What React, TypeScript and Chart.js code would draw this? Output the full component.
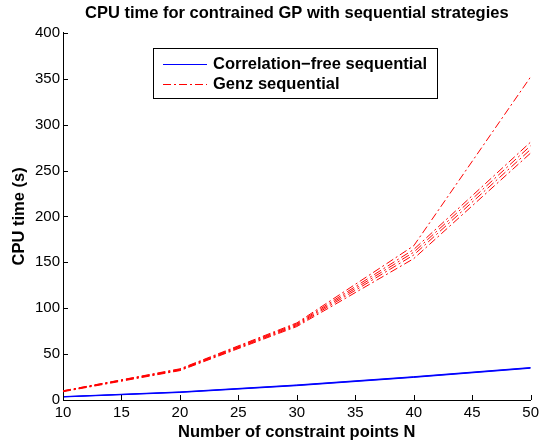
import React, { useEffect, useRef } from "react";
import { Chart, registerables } from "chart.js";

Chart.register(...registerables);

const N = [10, 20, 30, 40, 50];

const blueRuns = [
  [3.5, 8.5, 16.0, 25.0, 35.0],
  [3.3, 8.2, 15.6, 24.6, 34.6],
  [3.7, 8.8, 16.4, 25.4, 35.4],
];

const redRuns = [
  [10, 34, 84, 168, 352],
  [10, 33.5, 83, 164, 281],
  [9.5, 33, 82, 161, 277],
  [9.5, 32.5, 81, 158, 273],
  [9, 32, 80, 154, 269],
];

const xTicks = [10, 15, 20, 25, 30, 35, 40, 45, 50];
const yTicks = [0, 50, 100, 150, 200, 250, 300, 350, 400];

const titleText = "CPU time for contrained GP with sequential strategies";
const xTitle = "Number of constraint points N";
const yTitle = "CPU time (s)";
const legendLabels = ["Correlation\u2212free sequential", "Genz sequential"];

const FONT = "'Liberation Sans', Arial, Helvetica, sans-serif";
const RED_DASH = [8, 3, 2, 3];
const BOLD_SIZE = 16.5;
const BLUE = "#0000ff";
const RED = "#ff0000";

const inwardTicks = {
  id: "inwardTicks",
  afterDatasetsDraw(chart: any) {
    const { ctx, chartArea, scales } = chart;
    const len = 5;
    ctx.save();
    ctx.strokeStyle = "#000";
    ctx.lineWidth = 1;
    ctx.beginPath();
    xTicks.forEach((v) => {
      const px = Math.round(scales.x.getPixelForValue(v)) + 0.5;
      ctx.moveTo(px, chartArea.bottom);
      ctx.lineTo(px, chartArea.bottom - len);
    });
    yTicks.forEach((v) => {
      const py = Math.round(scales.y.getPixelForValue(v)) + 0.5;
      ctx.moveTo(chartArea.left, py);
      ctx.lineTo(chartArea.left + len, py);
    });
    ctx.stroke();
    ctx.restore();
  },
};

const boxLegend = {
  id: "boxLegend",
  afterDraw(chart: any) {
    const { ctx, chartArea } = chart;
    const x0 = Math.round(chartArea.left + 90);
    const y0 = Math.round(chartArea.top + 15.5);
    const w = 284;
    const h = 50;
    ctx.save();
    ctx.setLineDash([]);
    ctx.globalAlpha = 1;
    ctx.globalCompositeOperation = "source-over";
    ctx.fillStyle = "#ffffff";
    ctx.fillRect(x0, y0, w, h);
    ctx.fillStyle = "#000000";
    ctx.fillRect(x0, y0, w, 1);
    ctx.fillRect(x0, y0 + h, w + 1, 1);
    ctx.fillRect(x0, y0, 1, h);
    ctx.fillRect(x0 + w, y0, 1, h);
    // blue solid swatch
    const by = y0 + 16;
    ctx.fillStyle = BLUE;
    ctx.fillRect(x0 + 10, by, 44, 1);
    // red dash-dot swatch
    const ry = y0 + 36;
    ctx.fillStyle = RED;
    let px = x0 + 10;
    let k = 0;
    while (px < x0 + 54) {
      const seg = RED_DASH[k % RED_DASH.length];
      if (k % 2 === 0) ctx.fillRect(px, ry, Math.min(seg, x0 + 54 - px), 1);
      px += seg;
      k++;
    }
    ctx.fillStyle = "#000000";
    ctx.font = `bold ${BOLD_SIZE}px ${FONT}`;
    ctx.textBaseline = "middle";
    ctx.textAlign = "left";
    ctx.fillText(legendLabels[0], x0 + 60, by);
    ctx.fillText(legendLabels[1], x0 + 60, ry);
    ctx.restore();
  },
};

export default function App() {
  const ref = useRef<HTMLCanvasElement | null>(null);
  useEffect(() => {
    if (!ref.current) return;
    const datasets: any[] = [];
    blueRuns.forEach((run) => {
      datasets.push({
        data: N.map((n, i) => ({ x: n, y: run[i] })),
        borderColor: BLUE,
        borderWidth: 1,
        pointRadius: 0,
        fill: false,
        tension: 0,
      });
    });
    redRuns.forEach((run) => {
      datasets.push({
        data: N.map((n, i) => ({ x: n, y: run[i] })),
        borderColor: RED,
        borderWidth: 1,
        borderDash: RED_DASH,
        pointRadius: 0,
        fill: false,
        tension: 0,
      });
    });
    const chart = new Chart(ref.current, {
      type: "line",
      data: { datasets },
      plugins: [inwardTicks, boxLegend],
      options: {
        responsive: false,
        animation: false,
        layout: { padding: { top: 0, right: 8, bottom: 0, left: 0 } },
        plugins: {
          legend: { display: false },
          tooltip: { enabled: false },
          title: {
            display: true,
            fullSize: false,
            text: titleText,
            color: "#000",
            font: { family: FONT, size: BOLD_SIZE, weight: "bold" },
            padding: { top: 4, bottom: 9 },
          },
        },
        scales: {
          x: {
            type: "linear",
            min: 10,
            max: 50,
            afterFit: (s: any) => {
              s.height = 45;
            },
            afterBuildTicks: (s: any) => {
              s.ticks = xTicks.map((v) => ({ value: v }));
            },
            grid: { display: false, drawTicks: false },
            border: { display: true, color: "#000", width: 1 },
            ticks: {
              color: "#000",
              font: { family: FONT, size: 15 },
              padding: 4,
              maxRotation: 0,
              autoSkip: false,
            },
            title: {
              display: true,
              text: xTitle,
              color: "#000",
              font: { family: FONT, size: BOLD_SIZE, weight: "bold" },
              padding: { top: 0, bottom: 3 },
            },
          },
          y: {
            type: "linear",
            min: 0,
            max: 400,
            afterFit: (s: any) => {
              s.width = 63;
            },
            afterBuildTicks: (s: any) => {
              s.ticks = yTicks.map((v) => ({ value: v }));
            },
            grid: { display: false, drawTicks: false },
            border: { display: true, color: "#000", width: 1 },
            ticks: {
              color: "#000",
              font: { family: FONT, size: 15 },
              padding: 3,
              autoSkip: false,
            },
            title: {
              display: true,
              text: yTitle,
              color: "#000",
              font: { family: FONT, size: BOLD_SIZE, weight: "bold" },
              padding: { top: 10, bottom: 0 },
            },
          },
        },
      },
    });
    return () => chart.destroy();
  }, []);
  return (
    <div style={{ position: "fixed", left: 0, top: 0, width: 543, height: 445, background: "#fff" }}>
      <canvas ref={ref} width={543} height={445} style={{ display: "block" }} />
    </div>
  );
}
